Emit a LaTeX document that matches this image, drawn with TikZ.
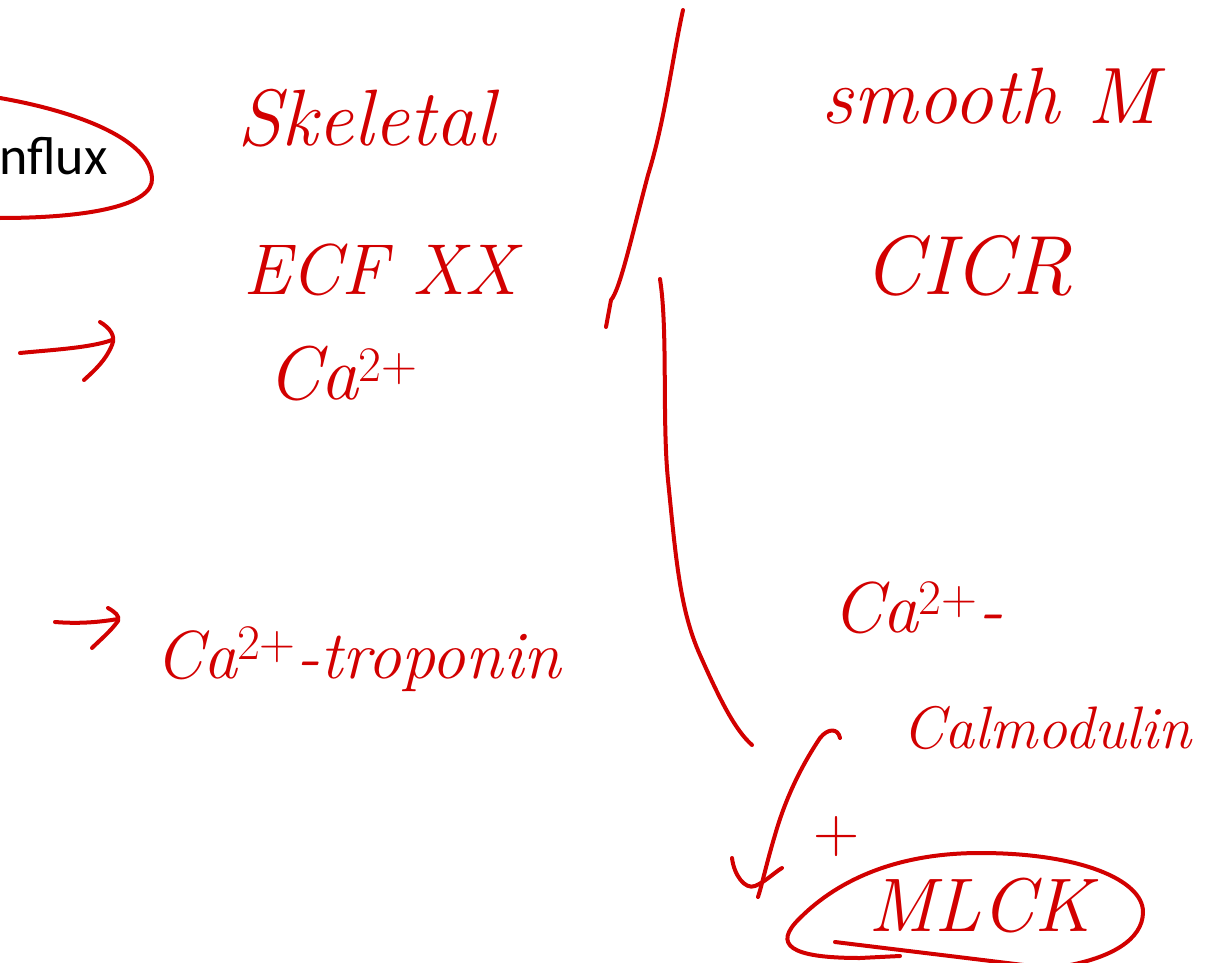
\documentclass[tikz,border=0pt]{standalone}
\usepackage{fontspec}
\newfontfamily\calib{Carlito}
\definecolor{ink}{RGB}{210,0,0}
\newcommand{\fs}[1]{\fontsize{#1}{#1}\selectfont}
\begin{document}
\begin{tikzpicture}[x=0.5pt,y=-0.5pt,
  pen/.style={draw=ink, line width=2pt, line cap=round, line join=round},
  hand/.style={text=ink, inner sep=0pt, font=\itshape}]
\useasboundingbox (0,0) rectangle (1211,963);
% left: influx
\node[anchor=base east, inner sep=0pt, font=\calib\fs{27}] (influx) at (108,175) {influx};
\draw[pen] (0,98) .. controls (80,112) and (150,140) .. (152,178)
           .. controls (154,205) and (90,218) .. (0,218);
% skeletal column
\node[hand, font=\itshape\fs{40}] (skeletal) at (366,118) {Skeletal};
\node[hand, font=\itshape\fs{36}] (ecf) at (380,270) {ECF XX};
\node[hand, font=\itshape\fs{38}] (ca1) at (343,374) {Ca$^{2+}$};
\node[hand, font=\itshape\fs{34}, anchor=base west] (trop) at (155,678) {Ca$^{2+}$-troponin};
% arrows on the left
\coordinate (a1s) at (20,353);
\coordinate (a1e) at (112,340);
\draw[pen] (a1s) .. controls (50,350) and (90,348) .. (a1e);
\draw[pen] (100,322) .. controls (110,328) and (116,336) .. (112,345) .. controls (106,360) and (95,370) .. (84,380);
\coordinate (a2s) at (55,622);
\coordinate (a2e) at (118,619);
\draw[pen] (a2s) .. controls (80,624) and (100,622) .. (a2e);
\draw[pen] (108,608) .. controls (115,612) and (120,616) .. (118,621) .. controls (110,632) and (100,640) .. (92,648);
% dividers
\coordinate (d1) at (683,10);
\coordinate (d2) at (606,327);
\draw[pen] (d1) .. controls (672,60) and (665,120) .. (648,175)
           .. controls (632,235) and (620,290) .. (611,300) -- (d2);
\coordinate (c1) at (660,279);
\coordinate (c2) at (752,745);
\draw[pen] (c1) .. controls (668,330) and (662,420) .. (668,480)
           .. controls (676,560) and (680,610) .. (700,655)
           .. controls (720,700) and (735,730) .. (c2);
% smooth column
\node[hand, font=\itshape\fs{40}] (smooth) at (990,96) {smooth M};
\node[hand, font=\itshape\fs{42}] (cicr) at (968,266) {CICR};
\node[hand, font=\itshape\fs{36}] (ca2) at (918,608) {Ca$^{2+}$-};
\node[hand, font=\itshape\fs{30}] (calm) at (1047,728) {Calmodulin};
\node[hand, font=\fs{32}] (plus) at (837,837) {+};
\node[hand, font=\itshape\fs{38}] (mlck) at (980,906) {MLCK};
% arrow calmodulin -> MLCK
\coordinate (m1) at (840,738);
\coordinate (m2) at (758,897);
\draw[pen] (m1) .. controls (838,728) and (828,728) .. (820,738)
           .. controls (800,768) and (785,800) .. (775,835)
           .. controls (766,865) and (762,885) .. (m2);
\draw[pen] (732,858) .. controls (734,875) and (745,890) .. (755,886)
           .. controls (765,882) and (775,872) .. (782,868);
% ellipse round MLCK
\draw[pen] (1065,966) .. controls (1110,958) and (1143,940) .. (1143,912)
           .. controls (1143,880) and (1080,853) .. (980,853)
           .. controls (900,853) and (840,878) .. (800,918)
           .. controls (772,945) and (790,958) .. (860,958)
           -- (900,956);
\draw[pen] (835,942) .. controls (900,950) and (1000,962) .. (1080,972);
\end{tikzpicture}
\end{document}
